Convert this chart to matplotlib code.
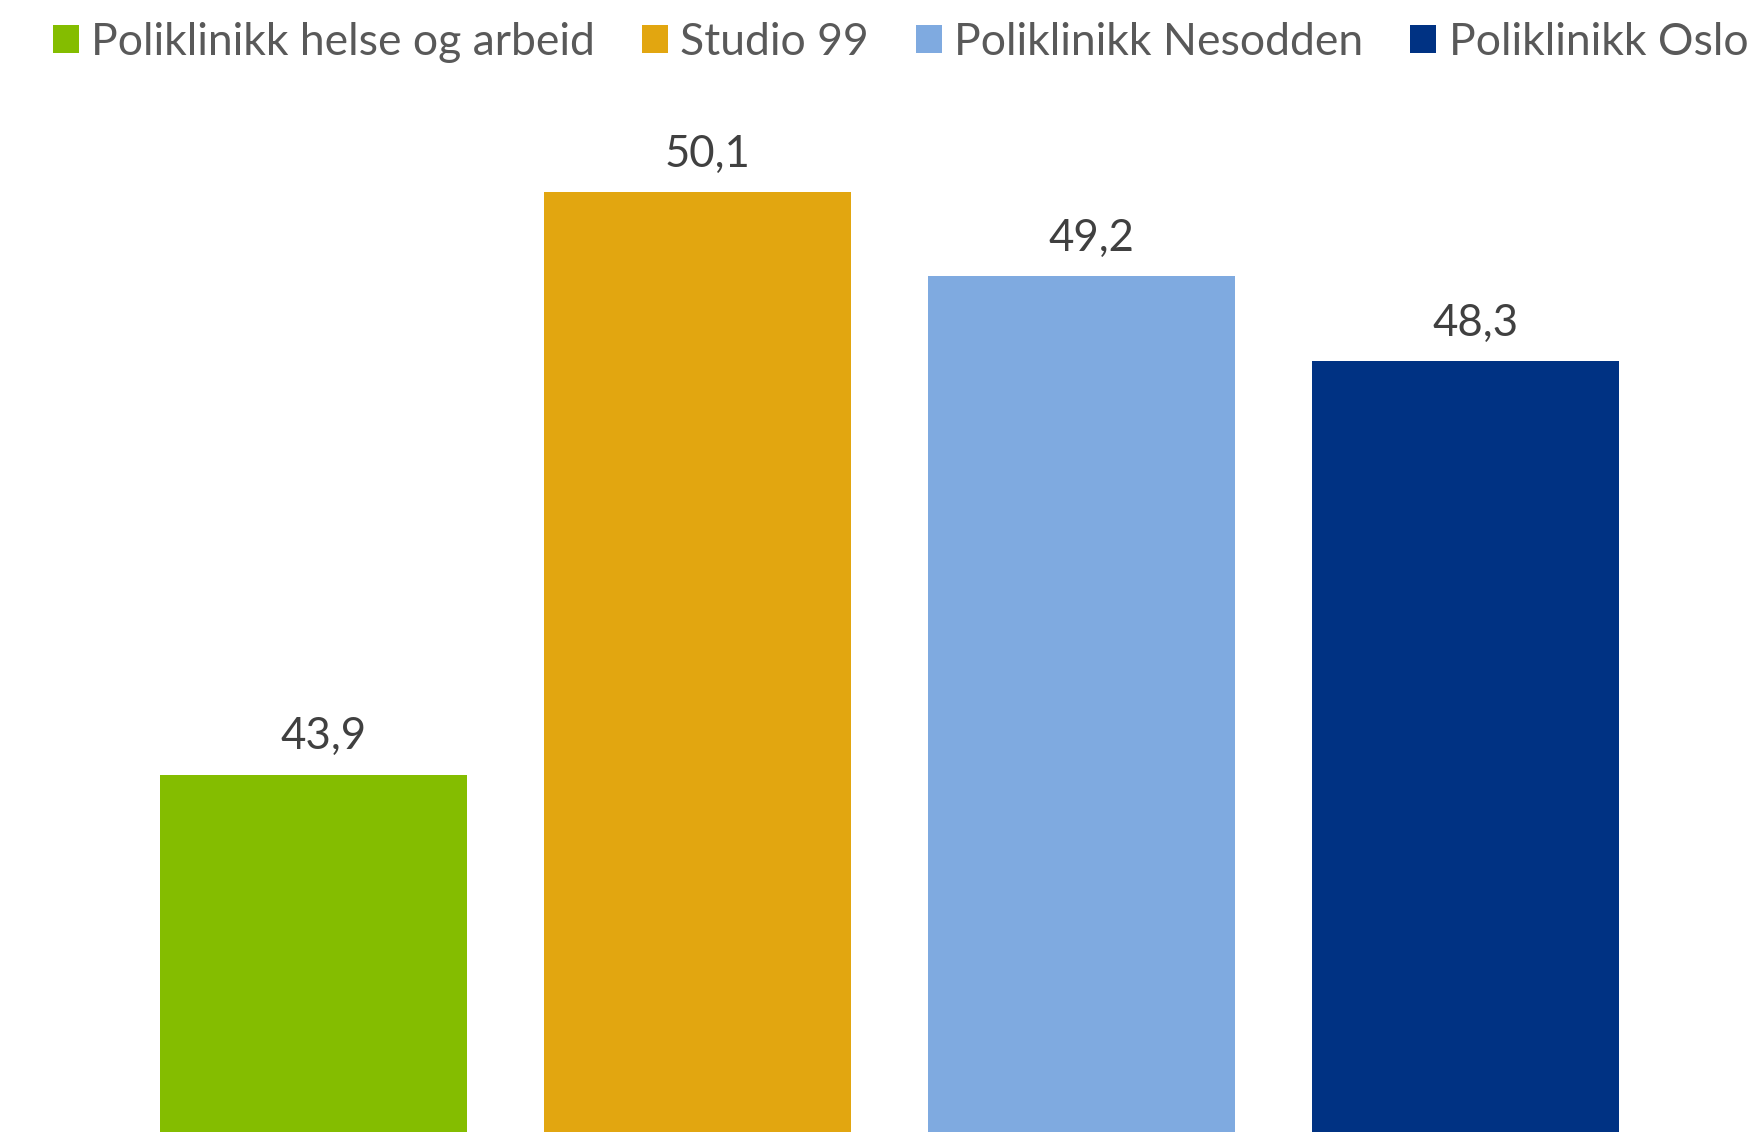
import matplotlib.pyplot as plt

clinics = ['Poliklinikk helse og arbeid', 'Studio 99', 'Poliklinikk Nesodden', 'Poliklinikk Oslo']
values = [43.9, 50.1, 49.2, 48.3]
colors = ['#84BD00', '#E2A610', '#7FAAE0', '#003283']

plt.rcParams['font.family'] = ['Lato', 'DejaVu Sans']

fig = plt.figure(figsize=(17.62, 11.32), dpi=100)
ax = fig.add_axes([0, 0, 1, 1])

for i, (name, val, col) in enumerate(zip(clinics, values, colors)):
    b = ax.bar(i, val, width=0.8, color=col, label=name)
    ax.annotate(f'{val:.1f}'.replace('.', ','), (i, val), xytext=(7, 12.5),
                textcoords='offset points', ha='center', va='bottom',
                fontsize=31.5, color='#404040')

ax.set_xlim(-0.818, 3.773)
ax.set_ylim(40.1, 52.14)
ax.axis('off')

fig.legend(loc='upper left', bbox_to_anchor=(0.03, 0.981), ncol=4, frameon=False,
           fontsize=32, labelcolor='#595959', handlelength=0.58, handleheight=0.58,
           handletextpad=0.28, columnspacing=1.06, borderaxespad=0, borderpad=0)

fig.savefig('out.png', dpi=100)
